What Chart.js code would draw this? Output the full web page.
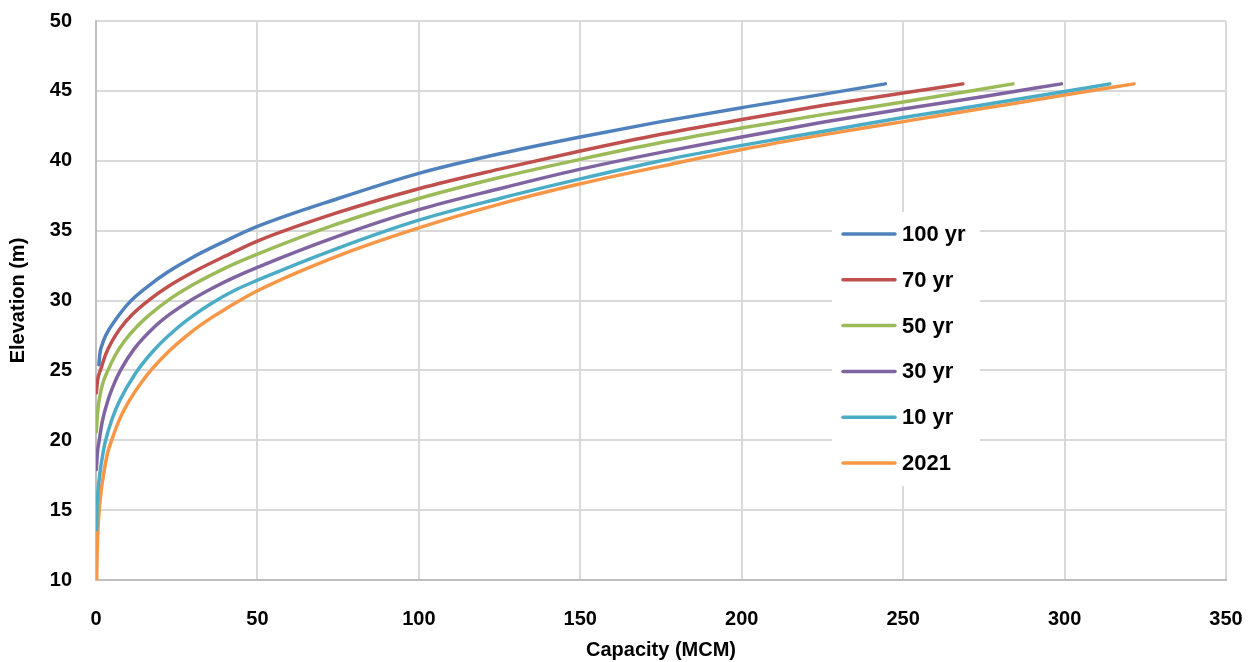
<!DOCTYPE html>
<html>
<head>
<meta charset="utf-8">
<script src="https://cdn.jsdelivr.net/npm/chart.js@4"></script>
<style>
  html, body { margin: 0; padding: 0; background: #fff; }
  #wrap { width: 1255px; height: 662px; }
</style>
</head>
<body>
<div id="wrap"><canvas id="myChart" width="1255" height="662"></canvas></div>
<script>
// series labels and colours
var seriesLabels = ['100 yr', '70 yr', '50 yr', '30 yr', '10 yr', '2021'];
var seriesColors = ['#4F81BD', '#C0504D', '#9BBB59', '#8064A2', '#4BACC6', '#F79646'];

// capacity (MCM) / elevation (m)
var cap100 = [0.9, 1.2, 2, 3, 6, 10.5, 16, 22, 30, 40, 50, 75, 100, 125, 150, 175, 200, 225, 244.5];
var elev100 = [25.4, 26.2, 26.9, 27.5, 28.6, 29.9, 31.0, 32.0, 33.1, 34.25, 35.3, 37.3, 39.1, 40.5, 41.7, 42.8, 43.8, 44.75, 45.5];

var cap70 = [0.1, 0.5, 1.5, 3, 5, 7.5, 11, 16.5, 22, 30, 40, 50, 75, 100, 125, 150, 175, 200, 225, 250, 268.5];
var elev70 = [23.4, 24.3, 25.1, 26.15, 27.1, 28.0, 28.95, 30.05, 30.95, 32.02, 33.17, 34.25, 36.3, 38.0, 39.4, 40.7, 41.9, 42.95, 43.95, 44.85, 45.5];

var cap50 = [0.1, 0.5, 1, 2, 3.7, 6, 9, 12.4, 17, 22, 30, 40, 50, 75, 100, 125, 150, 175, 200, 225, 250, 284];
var elev50 = [20.6, 22.0, 22.9, 24.0, 25.0, 26.1, 27.15, 28.07, 29.06, 29.96, 31.12, 32.32, 33.32, 35.5, 37.3, 38.8, 40.1, 41.3, 42.35, 43.3, 44.2, 45.5];

var cap30 = [0.1, 0.4, 1, 2, 3.8, 5.5, 7.4, 12, 18, 23, 29, 36, 43, 50, 75, 100, 125, 150, 175, 200, 225, 250, 275, 299];
var elev30 = [17.9, 19.0, 20.0, 21.4, 22.93, 23.98, 24.93, 26.59, 28.09, 29.04, 29.97, 30.88, 31.67, 32.37, 34.6, 36.5, 38.0, 39.4, 40.6, 41.7, 42.75, 43.7, 44.6, 45.5];

var cap10 = [0.2, 0.3, 0.6, 1.2, 2, 2.8, 5, 7.4, 12.2, 18, 24.8, 30, 35.6, 43, 50, 75, 100, 125, 150, 175, 200, 225, 250, 275, 300, 314];
var elev10 = [13.6, 15.0, 16.3, 17.62, 18.86, 19.82, 21.54, 22.86, 24.78, 26.46, 27.96, 28.9, 29.77, 30.73, 31.45, 33.75, 35.75, 37.3, 38.7, 40.0, 41.1, 42.1, 43.1, 44.0, 44.95, 45.5];

var cap2021 = [0.2, 0.35, 0.6, 1.0, 1.6, 2.3, 3.5, 5, 7.5, 10.5, 14, 17.5, 23, 30, 35, 41, 50, 75, 100, 125, 150, 175, 200, 225, 250, 275, 300, 321.5];
var elev2021 = [10.0, 12.0, 13.6, 15.0, 16.4, 17.5, 19.0, 20.1, 21.6, 22.9, 24.12, 25.14, 26.46, 27.83, 28.65, 29.52, 30.7, 33.2, 35.2, 36.9, 38.35, 39.6, 40.8, 41.85, 42.8, 43.75, 44.7, 45.5];

var capSeries = [cap100, cap70, cap50, cap30, cap10, cap2021];
var elevSeries = [elev100, elev70, elev50, elev30, elev10, elev2021];

// axis ticks
var xTicks = [0, 50, 100, 150, 200, 250, 300, 350];
var yTicks = [10, 15, 20, 25, 30, 35, 40, 45, 50];

function toPoints(xs, ys) {
    return xs.map(function (x, i) { return { x: x, y: ys[i] }; });
}

var datasets = seriesLabels.map(function (label, i) {
    return {
        label: label,
        data: toPoints(capSeries[i], elevSeries[i]),
        borderColor: seriesColors[i],
        backgroundColor: seriesColors[i],
        borderWidth: 3.5,
        pointRadius: 0,
        showLine: true,
        cubicInterpolationMode: 'monotone',
        borderCapStyle: 'round'
    };
});

// legend drawn inside the plot, over a white box
var boxLegend = {
    id: 'boxLegend',
    afterDatasetsDraw: function (chart) {
        var ctx = chart.ctx;
        ctx.save();
        ctx.fillStyle = '#fff';
        ctx.fillRect(832, 212, 148, 274);
        ctx.font = 'bold 22px "Liberation Sans", Arial, sans-serif';
        ctx.textBaseline = 'middle';
        chart.data.datasets.forEach(function (ds, i) {
            var y = 234 + i * 45.8;
            ctx.strokeStyle = ds.borderColor;
            ctx.lineWidth = 3.5;
            ctx.lineCap = 'round';
            ctx.beginPath();
            ctx.moveTo(843, y);
            ctx.lineTo(895, y);
            ctx.stroke();
            ctx.fillStyle = '#000';
            ctx.fillText(ds.label, 902, y + 1);
        });
        ctx.restore();
    }
};

var tickFont = { family: '"Liberation Sans", Arial, sans-serif', size: 20, weight: 'bold' };

var canvas = document.getElementById('myChart');
var chart = new Chart(canvas.getContext('2d'), {
    type: 'scatter',
    data: { datasets: datasets },
    options: {
        responsive: false,
        animation: false,
        layout: { padding: { left: 0, right: 29, top: 21, bottom: 0 } },
        scales: {
            x: {
                type: 'linear',
                min: 0,
                max: 350,
                afterBuildTicks: function (scale) {
                    scale.ticks = xTicks.map(function (v) { return { value: v }; });
                },
                afterFit: function (scale) {
                    scale.height = 82;
                    scale.paddingLeft = 0;
                    scale.paddingRight = 0;
                },
                grid: { color: '#d9d9d9', lineWidth: 2, drawTicks: false },
                border: { color: '#bfbfbf', width: 2 },
                ticks: { color: '#000', font: tickFont, padding: 27 },
                title: {
                    display: true,
                    text: 'Capacity (MCM)',
                    color: '#000',
                    font: tickFont,
                    padding: { top: 4, bottom: 0 }
                }
            },
            y: {
                type: 'linear',
                min: 10,
                max: 50,
                afterBuildTicks: function (scale) {
                    scale.ticks = yTicks.map(function (v) { return { value: v }; });
                },
                afterFit: function (scale) {
                    scale.width = 96;
                    scale.paddingTop = 0;
                    scale.paddingBottom = 0;
                },
                grid: { color: '#d9d9d9', lineWidth: 2, drawTicks: false },
                border: { color: '#bfbfbf', width: 2 },
                ticks: { color: '#000', font: tickFont, padding: 24 },
                title: {
                    display: true,
                    text: 'Elevation (m)',
                    color: '#000',
                    font: tickFont,
                    padding: { top: 6, bottom: 0 }
                }
            }
        },
        plugins: {
            legend: { display: false },
            tooltip: { enabled: false }
        }
    },
    plugins: [boxLegend]
});
</script>
</body>
</html>
